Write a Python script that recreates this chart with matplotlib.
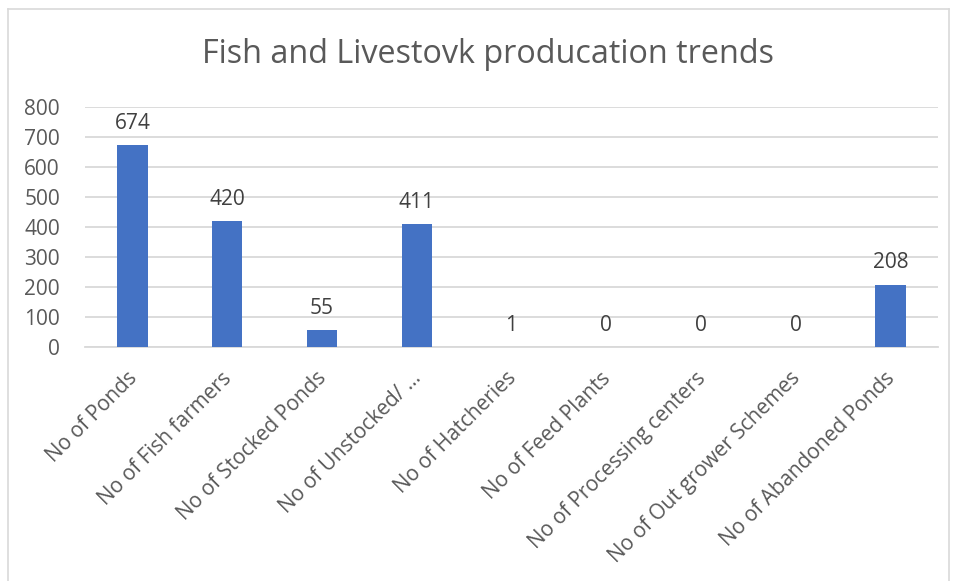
import matplotlib.pyplot as plt
import matplotlib.transforms as mtransforms
from matplotlib.lines import Line2D

# chart data
categories = ['No of Ponds', 'No of Fish farmers', 'No of Stocked Ponds',
              'No of Unstocked/ …', 'No of Hatcheries', 'No of Feed Plants',
              'No of Processing centers', 'No of Out grower Schemes',
              'No of Abandoned Ponds']
values = [674, 420, 55, 411, 1, 0, 0, 0, 208]
y_ticks = [0, 100, 200, 300, 400, 500, 600, 700, 800]

text_color = '#595959'
plt.rcParams['font.family'] = ['Open Sans', 'DejaVu Sans']

fig = plt.figure(figsize=(9.57, 5.81), dpi=100)
ax = fig.add_axes([0.0888, 0.4028, 0.8913, 0.4131])

x = list(range(len(categories)))
bars = ax.bar(x, values, width=0.32, color='#4472C4', zorder=3)

for xi, v in zip(x, values):
    ax.annotate(str(v), (xi, v), xytext=(0, 8), textcoords='offset points',
                ha='center', va='bottom', fontsize=15, color='#404040')

ax.set_xlim(-0.5, len(categories) - 0.5)
ax.set_ylim(0, 800)
ax.set_yticks(y_ticks)
ax.set_yticklabels([str(t) for t in y_ticks], fontsize=15, color=text_color)
ax.yaxis.grid(True, color='#D9D9D9', linewidth=1.3, zorder=0)
ax.tick_params(axis='y', length=0, pad=18)
ax.tick_params(axis='x', length=0, pad=15)

ax.set_xticks(x)
ax.set_xticklabels(categories, rotation=45, ha='right', rotation_mode='anchor',
                   fontsize=15, color=text_color)
shift = mtransforms.ScaledTranslation(-6 / 100, 0, fig.dpi_scale_trans)
for lbl in ax.get_xticklabels():
    lbl.set_transform(lbl.get_transform() + shift)

for side in ['top', 'right', 'left']:
    ax.spines[side].set_visible(False)
ax.spines['bottom'].set_color('#D9D9D9')
ax.spines['bottom'].set_linewidth(1.3)

fig.text(0.51, 0.907, 'Fish and Livestovk producation trends', ha='center',
         va='center', fontsize=23.3, color=text_color)

# outer chart border (open at the bottom, cropped)
W, H = 957, 581
for xs, ys in [([8, 8], [0, 572]), ([8, 949], [572, 572]), ([949, 949], [572, 0])]:
    fig.add_artist(Line2D([a / W for a in xs], [b / H for b in ys],
                          color='#D9D9D9', linewidth=1.2))

fig.savefig('out.png', dpi=100)
